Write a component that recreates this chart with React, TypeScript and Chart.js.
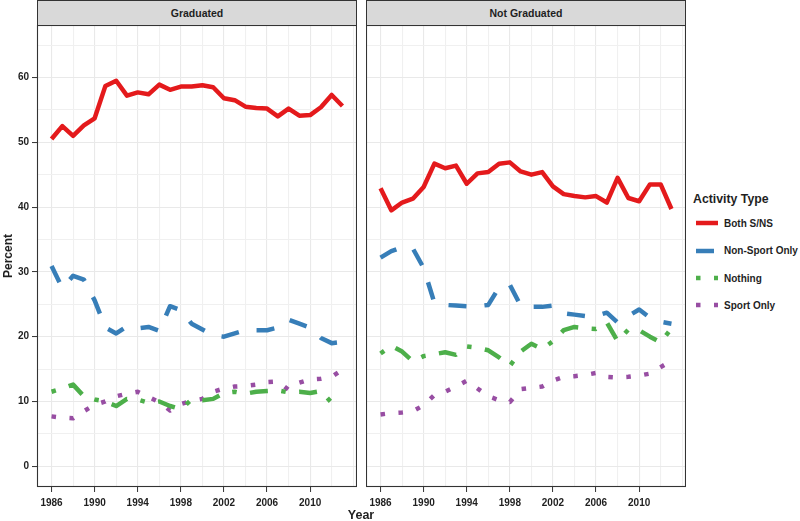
import React, { useEffect, useRef } from 'react';
import { Chart, registerables } from 'chart.js';

Chart.register(...registerables);

// ---- data ----
const years = [
  1986, 1987, 1988, 1989, 1990, 1991, 1992, 1993, 1994, 1995, 1996, 1997, 1998, 1999,
  2000, 2001, 2002, 2003, 2004, 2005, 2006, 2007, 2008, 2009, 2010, 2011, 2012, 2013,
];

const panels = ['Graduated', 'Not Graduated'];
const seriesNames = ['Both S/NS', 'Non-Sport Only', 'Nothing', 'Sport Only'];

// Graduated
const bothGrad = [50.5, 52.5, 51.0, 52.6, 53.7, 58.7, 59.5, 57.2, 57.7, 57.4, 58.9, 58.1, 58.6, 58.6, 58.8, 58.5, 56.8, 56.5, 55.5, 55.3, 55.2, 54.0, 55.2, 54.1, 54.2, 55.4, 57.3, 55.6];
const nonSportGrad = [30.9, 27.5, 29.4, 28.8, 25.6, 21.4, 20.5, 21.6, 21.3, 21.5, 20.9, 24.7, 24.1, 22.0, 21.1, 20.2, 20.0, 20.5, 21.0, 21.0, 21.0, 21.4, 22.6, 22.0, 21.4, 19.8, 19.0, 19.2];
const nothingGrad = [11.5, 12.0, 12.6, 10.8, 10.3, 10.0, 9.3, 10.4, 10.3, 9.8, 10.0, 9.3, 8.8, 10.3, 10.2, 10.4, 11.3, 11.5, 11.2, 11.5, 11.6, 11.7, 11.4, 11.5, 11.3, 11.6, 9.8, 10.0];
const sportGrad = [7.7, 7.5, 7.4, 8.5, 9.5, 10.0, 10.8, 11.2, 11.5, 10.7, 9.9, 8.6, 9.6, 10.1, 10.4, 11.5, 12.0, 12.3, 12.4, 12.6, 13.0, 13.1, 11.8, 12.9, 13.4, 13.5, 13.8, 14.9];

// Not Graduated
const bothNot = [42.9, 39.5, 40.7, 41.3, 43.1, 46.7, 46.0, 46.4, 43.6, 45.2, 45.4, 46.7, 46.9, 45.5, 45.0, 45.4, 43.2, 42.0, 41.7, 41.5, 41.7, 40.7, 44.5, 41.4, 40.9, 43.5, 43.5, 39.7];
const nonSportNot = [32.2, 33.2, 33.8, 33.6, 30.6, 25.2, 24.9, 24.8, 24.7, 24.7, 24.9, 27.6, 28.0, 24.8, 24.6, 24.6, 24.8, 23.6, 23.4, 23.2, 23.2, 23.7, 22.2, 23.2, 24.2, 22.9, 22.3, 22.0];
const nothingNot = [17.4, 18.6, 17.7, 16.2, 17.0, 17.3, 17.6, 17.2, 18.5, 18.3, 17.9, 16.8, 15.5, 17.7, 18.9, 18.1, 19.3, 21.0, 21.5, 21.3, 21.2, 22.2, 19.3, 21.1, 21.0, 20.0, 19.1, 21.3];
const sportNot = [8.0, 8.2, 8.3, 8.5, 9.4, 11.0, 11.5, 12.3, 13.2, 12.0, 10.8, 10.2, 9.9, 11.9, 12.1, 12.3, 13.2, 13.8, 13.9, 14.1, 14.4, 13.8, 13.7, 13.8, 14.0, 14.3, 15.3, 16.3];

// ticks
const xGridYears = [1986, 1988, 1990, 1992, 1994, 1996, 1998, 2000, 2002, 2004, 2006, 2008, 2010, 2012, 2014];
const xLabelYears = [1986, 1990, 1994, 1998, 2002, 2006, 2010];
const yGrid = [0, 5, 10, 15, 20, 25, 30, 35, 40, 45, 50, 55, 60, 65];
const yLabels = [0, 10, 20, 30, 40, 50, 60];

// styles
const seriesColors = ['#E41A1C', '#377EB8', '#4DAF4A', '#984EA3'];
const seriesDashes = [[], [18, 18], [4.5, 13.5, 18, 13.5], [4.5, 13.5]];
const LINE_W = 4.5;
const FONT = "'Liberation Sans', Arial, Helvetica, sans-serif";
const TEXT = '#1f1f1f';
const BORDER = '#333333';

const panelBorder = {
  id: 'panelBorder',
  afterDraw(chart: any) {
    const { ctx, chartArea: a } = chart;
    ctx.save();
    ctx.strokeStyle = BORDER;
    ctx.lineWidth = 1.1;
    ctx.strokeRect(a.left + 0.5, a.top + 0.5, a.right - a.left - 1, a.bottom - a.top - 1);
    ctx.restore();
  },
};

interface PanelProps {
  values: number[][];
  showY: boolean;
  width: number;
  height: number;
  yAxisWidth: number;
}

const Panel: React.FC<PanelProps> = ({ values, showY, width, height, yAxisWidth }) => {
  const canvasRef = useRef<HTMLCanvasElement>(null);

  useEffect(() => {
    if (!canvasRef.current) return;
    const chart = new Chart(canvasRef.current, {
      type: 'line',
      data: {
        datasets: seriesNames.map((name, k) => ({
          label: name,
          data: years.map((yr, i) => ({ x: yr, y: values[k][i] })),
          borderColor: seriesColors[k],
          borderWidth: LINE_W,
          borderDash: seriesDashes[k],
          borderJoinStyle: 'round',
          borderCapStyle: 'butt',
          pointRadius: 0,
          tension: 0,
          fill: false,
        })),
      },
      options: {
        responsive: false,
        animation: false,
        layout: { padding: 0 },
        plugins: { legend: { display: false }, tooltip: { enabled: false } },
        scales: {
          x: {
            type: 'linear',
            min: 1984.65,
            max: 2014.35,
            afterBuildTicks: (s: any) => {
              s.ticks = xGridYears.map((v) => ({ value: v }));
            },
            afterFit: (s: any) => {
              s.height = 24;
              s.paddingLeft = 0;
              s.paddingRight = 0;
            },
            border: { display: false },
            grid: {
              color: (c: any) => (xLabelYears.includes(c.tick?.value) ? '#e9e9e9' : '#f0f0f0'),
              lineWidth: 1.1,
              tickLength: 5,
              tickWidth: 1,
              tickColor: (c: any) => (xLabelYears.includes(c.tick?.value) ? BORDER : 'rgba(0,0,0,0)'),
            },
            ticks: {
              autoSkip: false,
              maxRotation: 0,
              padding: 5,
              color: TEXT,
              font: { family: FONT, size: 10, weight: 'bold' },
              callback: (v: any) => (xLabelYears.includes(v) ? String(v) : ''),
            },
          },
          y: {
            type: 'linear',
            min: -3.2,
            max: 68.1,
            afterBuildTicks: (s: any) => {
              s.ticks = yGrid.map((v) => ({ value: v }));
            },
            afterFit: (s: any) => {
              s.width = yAxisWidth;
              s.paddingTop = 0;
              s.paddingBottom = 0;
            },
            border: { display: false },
            grid: {
              color: (c: any) => (yLabels.includes(c.tick?.value) ? '#e9e9e9' : '#f0f0f0'),
              lineWidth: 1.1,
              drawTicks: showY,
              tickLength: 5,
              tickWidth: 1,
              tickColor: (c: any) => (yLabels.includes(c.tick?.value) ? BORDER : 'rgba(0,0,0,0)'),
            },
            ticks: {
              display: showY,
              autoSkip: false,
              padding: 3,
              color: TEXT,
              font: { family: FONT, size: 10, weight: 'bold' },
              callback: (v: any) => (yLabels.includes(v) ? String(v) : ''),
            },
          },
        },
      } as any,
      plugins: [panelBorder],
    });
    return () => chart.destroy();
  }, [values, showY, yAxisWidth]);

  return <canvas ref={canvasRef} width={width} height={height} style={{ display: 'block', width, height }} />;
};

const stripStyle = (left: number): React.CSSProperties => ({
  position: 'absolute',
  left,
  top: 0,
  width: 320,
  height: 26,
  boxSizing: 'border-box',
  background: '#d9d9d9',
  border: `1px solid ${BORDER}`,
  fontFamily: FONT,
  fontWeight: 'bold',
  fontSize: 10.5,
  color: TEXT,
  display: 'flex',
  alignItems: 'center',
  justifyContent: 'center',
});

const App: React.FC = () => {
  const gradValues = [bothGrad, nonSportGrad, nothingGrad, sportGrad];
  const notValues = [bothNot, nonSportNot, nothingNot, sportNot];
  const legendRowTop = [223, 250.5, 278, 305];

  return (
    <div style={{ position: 'absolute', left: 0, top: 0, width: 800, height: 521, background: '#fff', overflow: 'hidden' }}>
      <div style={stripStyle(37)}>{panels[0]}</div>
      <div style={stripStyle(366)}>{panels[1]}</div>

      <div style={{ position: 'absolute', left: 0, top: 25 }}>
        <Panel values={gradValues} showY={true} width={357} height={486} yAxisWidth={37} />
      </div>
      <div style={{ position: 'absolute', left: 366, top: 25 }}>
        <Panel values={notValues} showY={false} width={320} height={486} yAxisWidth={0} />
      </div>

      <div
        style={{
          position: 'absolute',
          left: 8,
          top: 256,
          transform: 'translate(-50%, -50%) rotate(-90deg)',
          fontFamily: FONT,
          fontWeight: 'bold',
          fontSize: 12,
          color: TEXT,
          whiteSpace: 'nowrap',
        }}
      >
        Percent
      </div>
      <div
        style={{
          position: 'absolute',
          left: 361,
          top: 515,
          transform: 'translate(-50%, -50%)',
          fontFamily: FONT,
          fontWeight: 'bold',
          fontSize: 12.5,
          color: TEXT,
        }}
      >
        Year
      </div>

      <div style={{ position: 'absolute', left: 693, top: 192, fontFamily: FONT, fontWeight: 'bold', fontSize: 12.3, color: TEXT, whiteSpace: 'nowrap' }}>
        Activity Type
      </div>
      {seriesNames.map((name, k) => (
        <div
          key={name}
          style={{
            position: 'absolute',
            left: 696,
            top: legendRowTop[k] - 7,
            height: 14,
            display: 'flex',
            alignItems: 'center',
            fontFamily: FONT,
            fontWeight: 'bold',
            fontSize: 10,
            color: TEXT,
            whiteSpace: 'nowrap',
          }}
        >
          <svg width={22} height={14} style={{ display: 'block', marginRight: 6 }}>
            <line
              x1={0}
              y1={7}
              x2={22}
              y2={7}
              stroke={seriesColors[k]}
              strokeWidth={LINE_W}
              strokeDasharray={seriesDashes[k].length ? seriesDashes[k].join(' ') : undefined}
              strokeLinecap="butt"
            />
          </svg>
          {name}
        </div>
      ))}
    </div>
  );
};

export default App;
